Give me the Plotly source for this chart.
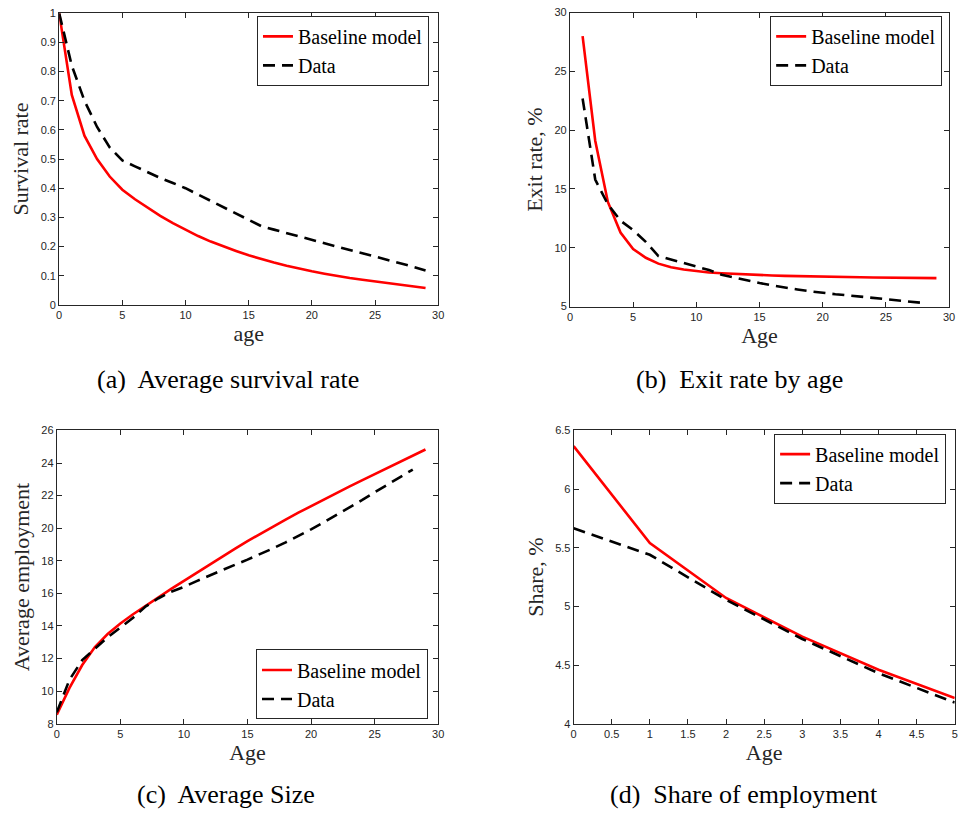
import plotly.graph_objects as go
from plotly.subplots import make_subplots

# ---- (a) average survival rate by age ----
age_a = list(range(0, 30))
surv_model = [1.0, 0.72, 0.58, 0.50, 0.44, 0.395, 0.362, 0.332, 0.305, 0.28,
              0.257, 0.236, 0.217, 0.2, 0.185, 0.17, 0.157, 0.145, 0.134, 0.124,
              0.115, 0.107, 0.099, 0.092, 0.086, 0.08, 0.074, 0.069, 0.064, 0.058]
surv_data = [1.0, 0.82, 0.70, 0.61, 0.54, 0.495, 0.475, 0.455, 0.435, 0.418,
             0.40, 0.378, 0.356, 0.334, 0.312, 0.29, 0.27, 0.258, 0.246, 0.234,
             0.222, 0.21, 0.199, 0.188, 0.177, 0.166, 0.155, 0.143, 0.131, 0.118]

# ---- (b) exit rate by age, % ----
age_b_model = list(range(1, 30))
exit_model = [28.0, 19.1, 13.9, 11.3, 9.9, 9.15, 8.65, 8.35, 8.15, 8.0,
              7.9, 7.83, 7.77, 7.72, 7.68, 7.64, 7.61, 7.58, 7.56, 7.54,
              7.52, 7.5, 7.49, 7.47, 7.46, 7.45, 7.44, 7.43, 7.42]
age_b_data = list(range(1, 29))
exit_data = [22.7, 15.8, 13.7, 12.3, 11.5, 10.5, 9.3, 9.0, 8.7, 8.4,
             8.1, 7.7, 7.45, 7.2, 7.0, 6.8, 6.6, 6.45, 6.3, 6.15,
             6.05, 5.95, 5.85, 5.75, 5.62, 5.5, 5.4, 5.3]

# ---- (c) average employment by age ----
age_c_model = list(range(0, 30))
size_model = [8.55, 10.2, 11.6, 12.7, 13.5, 14.15, 14.72, 15.25, 15.77, 16.27,
              16.77, 17.27, 17.765, 18.255, 18.735, 19.205, 19.66, 20.1, 20.53, 20.95,
              21.36, 21.76, 22.155, 22.545, 22.93, 23.31, 23.69, 24.07, 24.45, 24.83]
age_c_data = list(range(0, 29))
size_data = [8.7, 10.7, 11.9, 12.6, 13.3, 13.9, 14.5, 15.2, 15.7, 16.1,
             16.4, 16.75, 17.1, 17.42, 17.75, 18.07, 18.4, 18.76, 19.13, 19.52,
             19.93, 20.36, 20.8, 21.25, 21.72, 22.2, 22.67, 23.14, 23.6]

# ---- (d) share of employment, % ----
age_d = [0, 1, 2, 3, 4, 5]
share_model = [6.366, 5.54, 5.072, 4.742, 4.46, 4.218]
share_data = [5.666, 5.44, 5.056, 4.722, 4.43, 4.18]

captions = ["(a)  Average survival rate", "(b)  Exit rate by age",
            "(c)  Average Size", "(d)  Share of employment"]
x_titles = ["age", "Age", "Age", "Age"]
y_titles = ["Survival rate", "Exit rate, %", "Average employment", "Share, %"]

SERIF = "Liberation Serif, DejaVu Serif, serif"
SANS = "Liberation Sans, Arial, sans-serif"
INK = "#262626"
RED = "#ff0000"
W, H = 964, 823

fig = make_subplots(rows=2, cols=2)

model_line = dict(color=RED, width=2.6)
data_line = dict(color="black", width=2.6, dash="12px,7px")

panels = [
    (age_a, surv_model, age_a, surv_data, 1, 1, "legend"),
    (age_b_model, exit_model, age_b_data, exit_data, 1, 2, "legend2"),
    (age_c_model, size_model, age_c_data, size_data, 2, 1, "legend3"),
    (age_d, share_model, age_d, share_data, 2, 2, "legend4"),
]
for xm, ym, xd, yd, r, c, lg in panels:
    fig.add_trace(go.Scatter(x=xm, y=ym, mode="lines", name="Baseline model",
                             line=model_line, legend=lg), row=r, col=c)
    fig.add_trace(go.Scatter(x=xd, y=yd, mode="lines", name="Data",
                             line=data_line, legend=lg), row=r, col=c)

# plot-area boxes in pixels: (left, right, top, bottom)
boxes = [(56.7, 439.3, 7.3, 303.3), (572.3, 955.0, 6.7, 305.0),
         (54.3, 439.3, 430.7, 728.3), (576.0, 960.7, 430.7, 728.3)]
x_ranges = [[0, 30], [0, 30], [0, 30], [0, 5]]
x_dticks = [5, 5, 5, 0.5]
y_ranges = [[0, 1], [5, 30], [8, 26], [4, 6.5]]
y_dticks = [0.1, 5, 2, 0.5]

axis_common = dict(showgrid=False, zeroline=False, showline=True, linecolor=INK,
                   linewidth=1, mirror="ticks", ticks="inside", ticklen=5,
                   tickcolor=INK, tickwidth=1,
                   tickfont=dict(family=SANS, size=11, color=INK))

for i, (l, r_, t, b) in enumerate(boxes):
    sfx = "" if i == 0 else str(i + 1)
    fig.update_layout(**{
        "xaxis" + sfx: dict(domain=[l / W, r_ / W], range=x_ranges[i],
                            dtick=x_dticks[i], tick0=0,
                            title=dict(text=x_titles[i], standoff=3,
                                       font=dict(family=SERIF, size=22, color=INK)),
                            **axis_common),
        "yaxis" + sfx: dict(domain=[1 - b / H, 1 - t / H], range=y_ranges[i],
                            dtick=y_dticks[i], tick0=0,
                            title=dict(text=y_titles[i], standoff=5,
                                       font=dict(family=SERIF, size=22, color=INK)),
                            **axis_common),
    })

legend_common = dict(bgcolor="white", bordercolor=INK, borderwidth=1,
                     font=dict(family=SERIF, size=20, color="black"),
                     tracegroupgap=0, itemwidth=30)
fig.update_layout(
    legend=dict(x=430 / W, y=1 - 10 / H, xanchor="right", yanchor="top", **legend_common),
    legend2=dict(x=948 / W, y=1 - 10 / H, xanchor="right", yanchor="top", **legend_common),
    legend3=dict(x=429 / W, y=1 - 724 / H, xanchor="right", yanchor="bottom", **legend_common),
    legend4=dict(x=952 / W, y=1 - 434 / H, xanchor="right", yanchor="top", **legend_common),
)

# sub-figure captions
cap_pos = [(227, 379), (743, 379), (225, 800), (748, 800)]
for (cx, cy), txt in zip(cap_pos, captions):
    fig.add_annotation(text=txt, x=cx / W, y=1 - cy / H, xref="paper", yref="paper",
                       showarrow=False, xanchor="center", yanchor="middle",
                       font=dict(family=SERIF, size=26, color="black"))

fig.update_layout(width=W, height=H, margin=dict(l=0, r=0, t=0, b=0),
                  paper_bgcolor="white", plot_bgcolor="white", showlegend=True)

fig.write_html("out.html")
